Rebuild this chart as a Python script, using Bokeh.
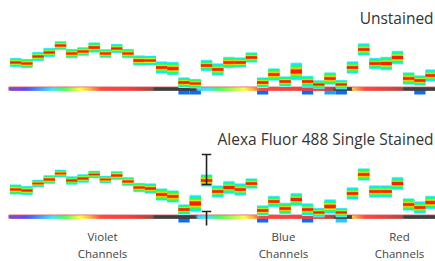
import numpy as np
from bokeh.plotting import figure
from bokeh.layouts import column
from bokeh.models import Range1d
from bokeh.embed import file_html
from bokeh.resources import INLINE
from bokeh.core.properties import value

# ---------------- data ----------------
channels = list(range(1, 39))  # V1-V16, B1-B14, R1-R8

unstained_mid = [0.48, 0.46, 0.60, 0.68, 0.82, 0.66, 0.70, 0.78, 0.66, 0.76,
                 0.66, 0.52, 0.52, 0.38, 0.36, 0.08, 0.06, 0.42, 0.34, 0.48,
                 0.48, 0.58, 0.08, 0.24, 0.10, 0.30, 0.10, 0.04, 0.16, 0.04,
                 0.38, 0.74, 0.46, 0.46, 0.58, 0.16, 0.12, 0.22]
unstained_spread = [0.090, 0.090, 0.090, 0.090, 0.084, 0.090, 0.084, 0.100, 0.084, 0.090,
                    0.090, 0.100, 0.094, 0.120, 0.130, 0.100, 0.090, 0.110, 0.120, 0.110,
                    0.100, 0.100, 0.100, 0.120, 0.100, 0.170, 0.110, 0.080, 0.120, 0.090,
                    0.120, 0.120, 0.110, 0.130, 0.130, 0.120, 0.100, 0.120]

stained_mid = [0.50, 0.48, 0.62, 0.70, 0.82, 0.68, 0.72, 0.80, 0.70, 0.78,
               0.66, 0.54, 0.52, 0.40, 0.36, 0.10, 0.22, 0.68, 0.46, 0.54,
               0.50, 0.62, 0.08, 0.26, 0.12, 0.30, 0.10, 0.04, 0.16, 0.04,
               0.42, 0.80, 0.46, 0.46, 0.62, 0.20, 0.14, 0.24]
stained_spread = [0.096, 0.090, 0.074, 0.084, 0.074, 0.080, 0.084, 0.074, 0.074, 0.084,
                  0.084, 0.090, 0.100, 0.116, 0.116, 0.100, 0.166, 0.116, 0.116, 0.126,
                  0.120, 0.100, 0.100, 0.110, 0.110, 0.126, 0.120, 0.090, 0.140, 0.090,
                  0.120, 0.120, 0.120, 0.120, 0.126, 0.120, 0.120, 0.130]

unstained_neg_ch = [16, 17, 23, 27, 29, 30, 37]
unstained_neg_level = [1.0, 1.0, 1.0, 1.0, 0.6, 1.0, 1.0]
stained_neg_ch = [16, 23, 27, 30]
stained_neg_level = [1.0, 1.0, 1.0, 0.4]

errbar_ch = 18
errbar_upper = [0.60, 1.20]
errbar_lower = [-0.22, 0.06]

group_names = ["Violet", "Blue", "Red"]
group_pos = [8.24, 24.35, 34.68]
panel_titles = ["Unstained", "Alexa Fluor 488 Single Stained"]

# ---------------- style ----------------
FONT = value("Open Sans")
XR = (-0.846, 37.89)
W = 435
BAR_X0 = -0.134

bar_stops = [
    (-0.134, "#7a4fb0"), (0.67, "#7f47d9"), (1.38, "#5a4bff"), (2.09, "#3f7bff"),
    (3.16, "#3fbfff"), (3.78, "#3fe6ff"), (4.76, "#3fff5a"), (5.57, "#a6ff3f"),
    (6.28, "#ffff3f"), (7.17, "#ffb03f"), (8.06, "#ff4a3f"), (10.7, "#f04040"),
    (12.07, "#c04545"), (12.7, "#a04848"), (12.87, "#404040"), (16.52, "#404040"),
    (16.7, "#3fd0ff"), (17.6, "#3fe6ff"), (18.48, "#3fff5a"), (19.8, "#a6ff3f"),
    (20.8, "#ffff3f"), (21.6, "#ffb03f"), (22.3, "#ff4a3f"), (27.65, "#e84040"),
    (28.8, "#b04545"), (28.9, "#404040"), (30.4, "#404040"), (30.5, "#ffd03f"),
    (31.0, "#ff8a3f"), (31.65, "#ff4a3f"), (33.4, "#e04444"), (34.95, "#b04848"),
    (35.1, "#404040"), (37.9, "#404040"),
]

bands = [  # (fraction of spread, colour), outer to inner
    (1.00, "#b4f5ff"), (0.90, "#14e6f5"), (0.70, "#22ff55"),
    (0.42, "#d8ff10"), (0.32, "#ff9a00"), (0.21, "#ff1e00"),
]


def hex2rgb(h):
    return [int(h[i:i + 2], 16) for i in (1, 3, 5)]


def gradient_bar(p):
    xs = np.array([s[0] for s in bar_stops])
    rgb = np.array([hex2rgb(s[1]) for s in bar_stops], dtype=float)
    edges = np.linspace(BAR_X0, XR[1], 400)
    step = edges[1] - edges[0]
    mids = edges[:-1] + step / 2
    cols = []
    for m in mids:
        r, g, b = (np.interp(m, xs, rgb[:, k]) for k in range(3))
        cols.append("#%02x%02x%02x" % (int(r), int(g), int(b)))
    right = np.minimum(edges[:-1] + 3 * step, XR[1])
    p.quad(left=edges[:-1], right=right, top=-0.015, bottom=-0.08,
           fill_color=cols, line_color=None)
    p.line(x=[BAR_X0, XR[1]], y=[-0.008, -0.008], line_color="#d9534f",
           line_alpha=0.55, line_width=1.2)


def neg_color(level):
    if level >= 0.9:
        return "#0a6cff"
    if level >= 0.5:
        return "#14a4ff"
    return "#22c8ff"


def panel(height, ytop, ybot, mid, spread, neg_ch, neg_level, title, title_y):
    p = figure(width=W, height=height, output_backend="svg", toolbar_location=None,
               x_range=Range1d(*XR), y_range=Range1d(ybot, ytop),
               x_axis_location=None, y_axis_location=None, min_border=0,
               outline_line_color=None, title=None)
    p.grid.visible = False
    p.background_fill_color = "white"
    left = np.array(channels) - 1.0
    right = np.array(channels, dtype=float)
    mid_a = np.array(mid)
    spr_a = np.array(spread) * 1.08
    # negative (below-zero) cells
    nl = np.array(neg_ch) - 1.0
    p.quad(left=nl, right=nl + 1.0, top=-0.02, bottom=-0.16,
           fill_color=[neg_color(v) for v in neg_level], line_color=None)
    gradient_bar(p)
    for frac, col in bands:
        p.quad(left=left, right=right, top=mid_a + spr_a * frac,
               bottom=mid_a - spr_a * frac, fill_color=col, line_color=None)
    p.text(x=[37.72], y=[title_y], text=[title], text_align="right",
           text_baseline="middle", text_font=FONT, text_font_size="15.5px",
           text_color="#333333")
    return p


p1 = panel(128, 1.72, -0.84, unstained_mid, unstained_spread,
           unstained_neg_ch, unstained_neg_level, panel_titles[0], 1.38)
p2 = panel(133, 1.72, -0.94, stained_mid, stained_spread,
           stained_neg_ch, stained_neg_level, panel_titles[1], 1.52)

# error bars on B2 (channel 18)
xc = errbar_ch - 0.5
p2.segment(x0=[xc, xc], y0=[errbar_upper[0], errbar_lower[0]],
           x1=[xc, xc], y1=[errbar_upper[1], errbar_lower[1]],
           line_color="#222222", line_width=1.6)
p2.segment(x0=[xc - 0.42, xc - 0.42, xc - 0.42], y0=[errbar_upper[0], errbar_upper[1], errbar_lower[1]],
           x1=[xc + 0.42, xc + 0.42, xc + 0.42], y1=[errbar_upper[0], errbar_upper[1], errbar_lower[1]],
           line_color="#222222", line_width=1.6)

# group labels
p2.text(x=group_pos, y=[-0.44] * 3, text=group_names, text_align="center",
        text_baseline="middle", text_font=FONT, text_font_size="11.5px", text_color="#444444")
p2.text(x=group_pos, y=[-0.78] * 3, text=["Channels"] * 3, text_align="center",
        text_baseline="middle", text_font=FONT, text_font_size="11.5px", text_color="#444444")

layout = column(p1, p2, spacing=0)
open("out.html", "w").write(file_html(layout, INLINE))
